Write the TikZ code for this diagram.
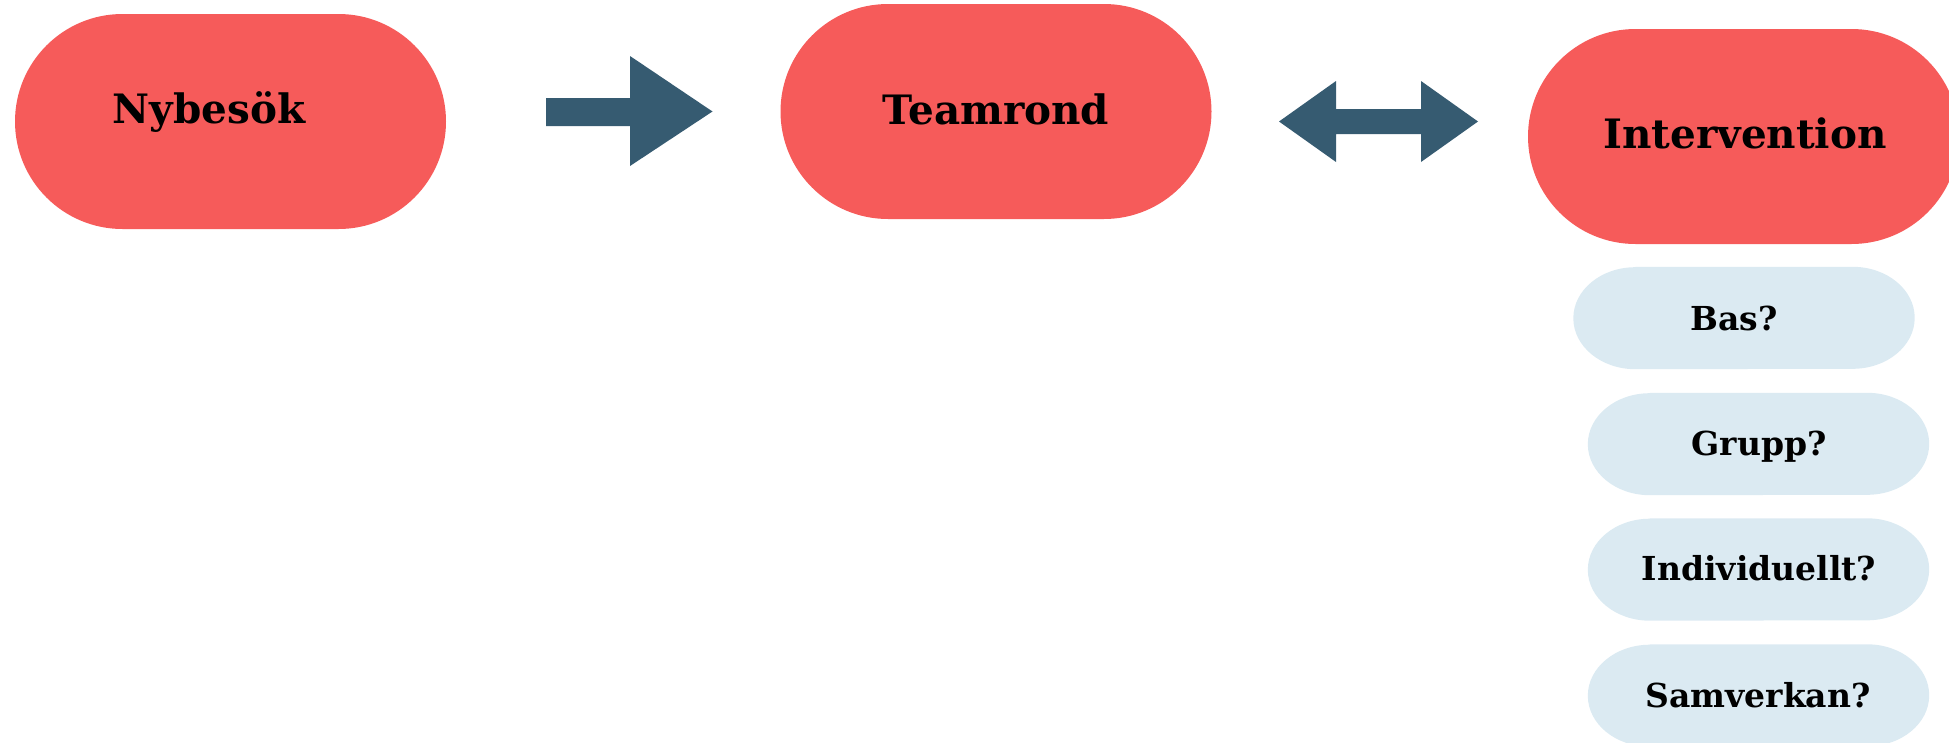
\documentclass[tikz,border=0pt]{standalone}
\usepackage{fontspec}
\setmainfont{DejaVu Serif}
\usetikzlibrary{shapes.misc}
\definecolor{pillred}{HTML}{F65B5A}
\definecolor{pillblue}{HTML}{DBEAF2}
\definecolor{arrowblue}{HTML}{365B71}
\tikzset{
  redpill/.style={rounded rectangle, fill=pillred, draw=none, inner sep=0pt, minimum width=431pt, minimum height=215pt},
  bluebox/.style={rectangle, draw=none, inner sep=0pt, minimum width=341pt, minimum height=102pt},
  bigtxt/.style={anchor=base, inner sep=0pt, font=\fontsize{40.5}{48}\selectfont\bfseries},
  smalltxt/.style={anchor=base, inner sep=0pt, font=\fontsize{33}{40}\selectfont\bfseries},
  blockarrow/.style={fill=arrowblue, draw=none}
}
\newcommand\ovalfill[1]{%
  \fill[pillblue] ([xshift=62pt]#1.north west) -- ([xshift=-62pt]#1.north east)
    arc[start angle=90, end angle=-90, x radius=62pt, y radius=51pt]
    -- ([xshift=62pt]#1.south west)
    arc[start angle=270, end angle=90, x radius=62pt, y radius=51pt] -- cycle;}
\begin{document}
\begin{tikzpicture}[x=1pt, y=-1pt]
\useasboundingbox (0,0) rectangle (1949,742);
\clip (0,0) rectangle (1949,742);
% red pills
\node[redpill] (nybBox) at (230.5,121.5) {};
\node[redpill] (teamBox) at (996,111.5) {};
\node[redpill] (intBox) at (1743.5,136.5) {};
\node[bigtxt] (nyb) at (209,123.5) {Nybesök};
\node[bigtxt] (team) at (996,124) {Teamrond};
\node[bigtxt] (int) at (1745,148) {Intervention};
% blue pills
\node[bluebox] (basBox) at (1744,318) {};
\node[bluebox] (gruBox) at (1758.5,444) {};
\node[bluebox] (indBox) at (1758.5,569.5) {};
\node[bluebox] (samBox) at (1758.5,695.5) {};
\ovalfill{basBox}
\ovalfill{gruBox}
\ovalfill{indBox}
\ovalfill{samBox}
\node[smalltxt] (bas) at (1734,330) {Bas?};
\node[smalltxt] (gru) at (1759,455) {Grupp?};
\node[smalltxt] (ind) at (1759,580) {Individuellt?};
\node[smalltxt] (sam) at (1758,707) {Samverkan?};
% block arrows
\fill[blockarrow] (546,98) -- (630,98) -- (630,56) -- (712.5,111.5) -- (630,166) -- (630,126) -- (546,126) -- cycle;
\fill[blockarrow] (1279,121.5) -- (1336,81) -- (1336,109) -- (1421,109) -- (1421,81) -- (1478,121.5) -- (1421,162) -- (1421,134) -- (1336,134) -- (1336,162) -- cycle;
\end{tikzpicture}
\end{document}
